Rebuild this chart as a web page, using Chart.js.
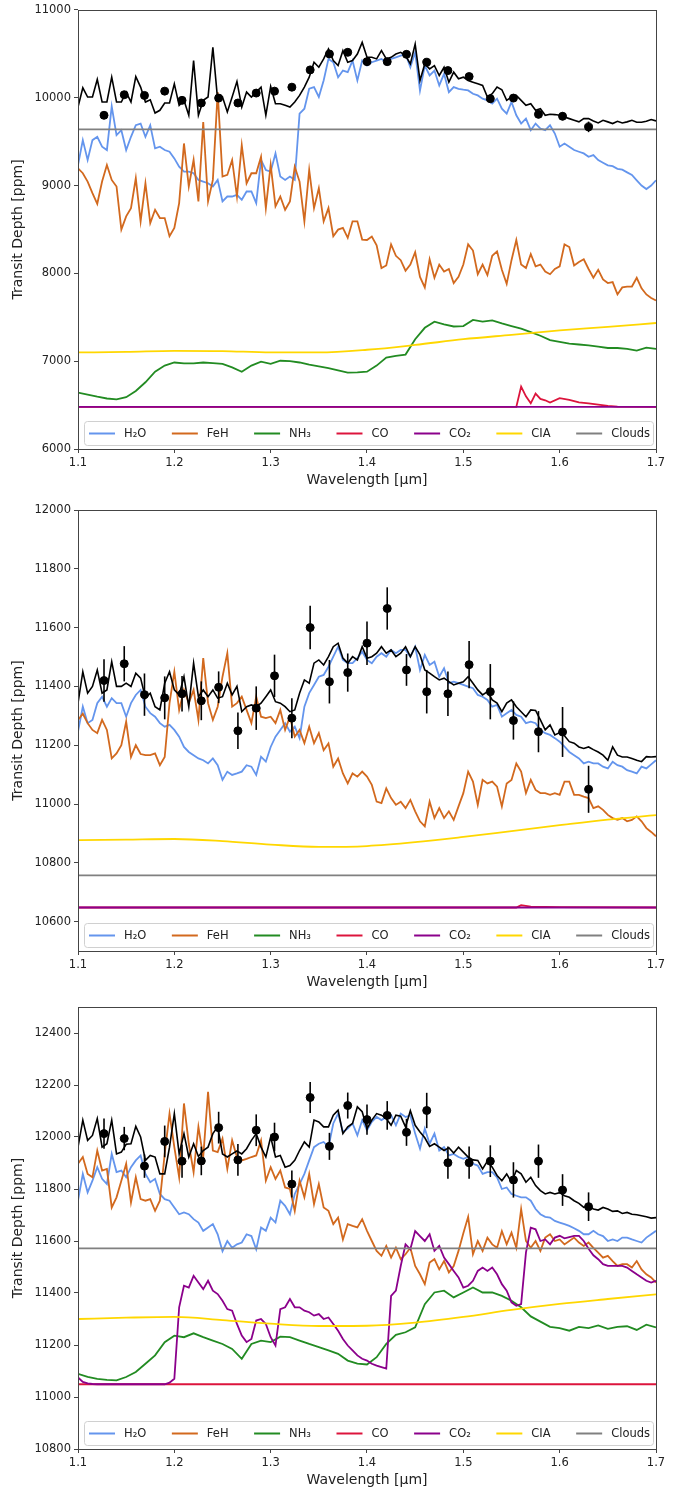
<!DOCTYPE html>
<html>
<head>
<meta charset="utf-8">
<script src="https://cdn.jsdelivr.net/npm/chart.js@4.4.1/dist/chart.umd.min.js"></script>
<style>
  html, body { margin: 0; padding: 0; background: #fff; }
  #wrap { position: relative; width: 694px; height: 1491px; }
  canvas { position: absolute; left: 0; }
</style>
</head>
<body>
<div id="wrap">
  <canvas id="c1" width="694" height="495" style="top:0px"></canvas>
  <canvas id="c2" width="694" height="500" style="top:495px"></canvas>
  <canvas id="c3" width="694" height="496" style="top:995px"></canvas>
</div>
<script>
const speciesLabels = ['H\u2082O', 'FeH', 'NH\u2083', 'CO', 'CO\u2082', 'CIA', 'Clouds'];
const speciesColors = ['#6495ED', '#D2691E', '#228B22', '#DC143C', '#8B008B', '#FFD700', '#808080'];

// model wavelength grids (micron)
const wlFine = Array.from({ length: 121 }, (_, i) => +(1.1 + i * 0.005).toFixed(3));
const wlMid = Array.from({ length: 61 }, (_, i) => +(1.1 + i * 0.01).toFixed(2));
const wlCoarse = Array.from({ length: 13 }, (_, i) => +(1.1 + i * 0.05).toFixed(2));
const wlEnds = [1.1, 1.7];

// observed spectral channels
const obsWl = [1.127, 1.148, 1.169, 1.19, 1.208, 1.228, 1.246, 1.266, 1.285, 1.304, 1.322, 1.341, 1.361,
  1.38, 1.40, 1.421, 1.441, 1.462, 1.484, 1.506, 1.528, 1.552, 1.578, 1.603, 1.63];

// ---------- panel 1 ----------
const obs1 = [9800, 10034, 10026, 10075, 9970, 9940, 9996, 9940, 10053, 10075, 10120, 10317, 10498,
  10517, 10411, 10411, 10494, 10404, 10309, 10241, 9989, 9996, 9811, 9789, 9668];
const err1 = [40, 40, 40, 40, 40, 40, 40, 40, 40, 40, 40, 45, 45, 40, 40, 40, 40, 40, 40, 40, 40, 40, 45, 45, 60];
const model1 = [9894, 10113, 10008, 10008, 10208, 9951, 9951, 10234, 9951, 9951,
  10064, 9951, 10241, 10121, 9951, 9977, 9826, 9857, 9940, 9940,
  10158, 9913, 9970, 9800, 10423, 9800, 9970, 10008, 10574, 9970,
  10008, 9838, 10008, 10185, 9894, 10064, 10008, 10064, 10121, 9800,
  10128, 9932, 9932, 9913, 9894, 9951, 10026, 10121, 10234, 10404,
  10347, 10442, 10555, 10423, 10366, 10536, 10404, 10423, 10498, 10630,
  10460, 10460, 10442, 10536, 10442, 10460, 10498, 10517, 10479, 10385,
  10611, 10196, 10385, 10328, 10366, 10253, 10347, 10177, 10291, 10215,
  10234, 10196, 10177, 10158, 10140, 10008, 10045, 10121, 10091, 9970,
  10008, 10026, 9970, 9913, 9932, 9857, 9875, 9800, 9811, 9808,
  9800, 9781, 9762, 9743, 9725, 9762, 9762, 9736, 9713, 9743,
  9725, 9706, 9732, 9713, 9725, 9743, 9721, 9721, 9732, 9751,
  9736];
const h2o1 = [9234, 9517, 9291, 9517, 9555, 9442, 9404, 9902, 9574, 9630,
  9404, 9555, 9687, 9706, 9555, 9687, 9423, 9442, 9404, 9385,
  9309, 9215, 9158, 9158, 9140, 9064, 9045, 9026, 8989, 9064,
  8819, 8875, 8875, 8894, 8838, 8932, 8932, 8800, 9291, 9177,
  9158, 9366, 9102, 9064, 9102, 9064, 9819, 9875, 10102, 10121,
  10008, 10196, 10442, 10404, 10234, 10309, 10291, 10423, 10196, 10423,
  10366, 10404, 10423, 10442, 10404, 10442, 10460, 10479, 10498, 10347,
  10517, 10083, 10366, 10253, 10309, 10140, 10272, 10064, 10121, 10102,
  10091, 10083, 10045, 10026, 9989, 9970, 9932, 9989, 9875, 9819,
  9951, 9800, 9706, 9762, 9630, 9706, 9649, 9630, 9687, 9592,
  9442, 9479, 9442, 9404, 9385, 9366, 9328, 9347, 9290, 9260,
  9230, 9220, 9190, 9180, 9150, 9120, 9060, 9000, 8960, 9000,
  9060];
const feh1 = [9196, 9140, 9045, 8913, 8792, 9045, 9234, 9064, 8989, 8498,
  8649, 8743, 9083, 8592, 9026, 8573, 8724, 8630, 8630, 8423,
  8517, 8800, 9479, 8989, 9291, 8819, 9724, 8819, 9064, 10064,
  9102, 9121, 9291, 8875, 9460, 9026, 9140, 9140, 9328, 8743,
  9234, 8762, 8875, 8724, 8819, 9215, 9045, 8592, 9177, 8743,
  8970, 8592, 8743, 8423, 8498, 8517, 8404, 8592, 8592, 8385,
  8380, 8420, 8320, 8060, 8090, 8330, 8200, 8150, 8030, 8100,
  8240, 7960, 7840, 8160, 7950, 8100, 8020, 8050, 7890, 7960,
  8100, 8330, 8260, 7990, 8100, 7980, 8200, 8250, 8040, 7880,
  8150, 8380, 8100, 8060, 8220, 8080, 8100, 8020, 7990, 8050,
  8080, 8330, 8300, 8090, 8130, 8160, 8050, 7950, 8040, 7930,
  7890, 7900, 7760, 7840, 7850, 7850, 7950, 7830, 7760, 7720,
  7690];
const nh31 = [6642, 6620, 6596, 6575, 6566, 6590, 6660, 6760, 6880, 6950,
  6985, 6975, 6975, 6985, 6978, 6970, 6930, 6880, 6950, 6995,
  6970, 7005, 7000, 6985, 6960, 6940, 6920, 6895, 6870, 6872,
  6880, 6950, 7040, 7060, 7075, 7250, 7380, 7450, 7420, 7395,
  7400, 7470, 7450, 7465, 7430, 7400, 7370, 7330, 7290, 7240,
  7220, 7200, 7190, 7180, 7165, 7150, 7150, 7140, 7120, 7155,
  7140];
const coWl1 = [1.1, 1.555, 1.56, 1.565, 1.57, 1.575, 1.58, 1.585, 1.59, 1.6, 1.61, 1.62, 1.63, 1.64, 1.65, 1.66, 1.7];
const co1 = [6480, 6480, 6710, 6600, 6520, 6630, 6570, 6555, 6530, 6580, 6560, 6530, 6520, 6505, 6490, 6482, 6480];
const co21 = [6480, 6480];
const cia1 = [7100, 7105, 7118, 7115, 7100, 7100, 7130, 7185, 7250, 7300, 7350, 7390, 7435];
const clouds1 = [9640, 9640];

// ---------- panel 2 ----------
const obs2 = [11420, 11477, 11372, 11361, 11375, 11351, 11397, 11249, 11326, 11436, 11292, 11600, 11416,
  11447, 11547, 11665, 11456, 11382, 11375, 11474, 11382, 11284, 11246, 11245, 11050];
const err2 = [72, 60, 72, 73, 60, 66, 54, 62, 74, 72, 68, 74, 74, 65, 74, 72, 54, 74, 76, 80, 94, 65, 70, 85, 80];
const model2 = [11343, 11450, 11377, 11400, 11456, 11377, 11388, 11484, 11400, 11400,
  11411, 11400, 11445, 11428, 11360, 11377, 11331, 11320, 11411, 11450,
  11388, 11371, 11433, 11331, 11479, 11365, 11388, 11365, 11388, 11360,
  11365, 11411, 11371, 11400, 11314, 11331, 11337, 11331, 11343, 11365,
  11388, 11348, 11343, 11331, 11314, 11320, 11377, 11422, 11411, 11479,
  11490, 11473, 11501, 11535, 11547, 11496, 11479, 11501, 11490, 11535,
  11496, 11501, 11513, 11535, 11513, 11524, 11501, 11513, 11535, 11501,
  11535, 11507, 11456, 11445, 11433, 11422, 11428, 11416, 11405, 11411,
  11416, 11433, 11411, 11388, 11371, 11382, 11354, 11343, 11314, 11343,
  11354, 11331, 11314, 11297, 11320, 11318, 11286, 11252, 11269, 11235,
  11243, 11232, 11212, 11207, 11194, 11189, 11194, 11185, 11177, 11166,
  11149, 11194, 11166, 11160, 11160, 11155, 11149, 11144, 11161, 11160,
  11161];
const h2o2 = [11246, 11331, 11275, 11286, 11343, 11365, 11331, 11360, 11343, 11343,
  11297, 11343, 11371, 11388, 11331, 11309, 11297, 11275, 11263, 11269,
  11252, 11229, 11194, 11177, 11166, 11155, 11149, 11138, 11155, 11132,
  11082, 11110, 11099, 11104, 11110, 11132, 11127, 11099, 11161, 11144,
  11194, 11229, 11252, 11275, 11246, 11263, 11224, 11331, 11377, 11405,
  11433, 11439, 11467, 11501, 11535, 11490, 11479, 11479, 11496, 11518,
  11490, 11479, 11501, 11513, 11501, 11524, 11513, 11524, 11524, 11501,
  11535, 11456, 11507, 11473, 11484, 11433, 11462, 11411, 11416, 11411,
  11405, 11399, 11394, 11371, 11365, 11354, 11331, 11337, 11297, 11309,
  11320, 11303, 11297, 11275, 11280, 11275, 11252, 11241, 11235, 11224,
  11212, 11195, 11177, 11166, 11155, 11138, 11144, 11138, 11138, 11127,
  11121, 11144, 11132, 11127, 11115, 11110, 11104, 11127, 11121, 11135,
  11149];
const feh2 = [11286, 11307, 11275, 11252, 11241, 11286, 11252, 11155, 11172, 11200,
  11280, 11160, 11200, 11170, 11166, 11166, 11172, 11132, 11160, 11343,
  11450, 11320, 11388, 11343, 11388, 11286, 11496, 11343, 11286, 11331,
  11433, 11513, 11331, 11343, 11365, 11320, 11275, 11365, 11297, 11292,
  11297, 11275, 11320, 11252, 11297, 11229, 11252, 11207, 11263, 11207,
  11241, 11183, 11206, 11127, 11155, 11104, 11070, 11104, 11093, 11110,
  11093, 11065, 11008, 11003, 11053, 11020, 10997, 11008, 10986, 11014,
  10975, 10941, 10924, 11008, 10952, 10986, 10952, 10975, 10946, 10992,
  11037, 11110, 11076, 10997, 11082, 11070, 11076, 11059, 10992, 11070,
  11082, 11138, 11110, 11037, 11082, 11048, 11037, 11037, 11031, 11037,
  11031, 11076, 11076, 11031, 11031, 11025, 11020, 10986, 10992, 10980,
  10963, 10952, 10946, 10952, 10941, 10946, 10958, 10941, 10918, 10905,
  10890];
const nh32 = [];
const coWl2 = [1.1, 1.555, 1.56, 1.57, 1.6, 1.7];
const co2v = [10648, 10648, 10656, 10651, 10649, 10648];
const co22 = [10648, 10648];
const cia2 = [10877, 10879, 10881, 10874, 10862, 10854, 10857, 10870, 10888, 10908, 10928, 10947, 10962];
const clouds2 = [10757, 10757];

// ---------- panel 3 ----------
const obs3 = [12013, 11994, 11888, 11983, 11907, 11908, 12036, 11912, 12026, 12000, 11819, 12152, 11964,
  12121, 12067, 12083, 12018, 12102, 11901, 11901, 11907, 11835, 11907, 11796, 11732];
const err3 = [58, 45, 45, 61, 64, 55, 61, 61, 61, 55, 52, 60, 52, 50, 58, 55, 52, 68, 62, 62, 61, 68, 64, 61, 55];
const model3 = [11961, 12065, 11987, 12006, 12071, 11961, 11974, 12065, 11935, 11942,
  11972, 11974, 12041, 12000, 11910, 11929, 11923, 11858, 11858, 11961,
  12090, 11935, 12013, 11923, 11974, 11925, 11948, 11961, 12013, 12039,
  11935, 11923, 11935, 11946, 11935, 11955, 11987, 12013, 11961, 11923,
  12000, 11923, 11929, 11884, 11890, 11910, 11948, 11981, 11961, 12065,
  12058, 12039, 12039, 12084, 12103, 12013, 12039, 12052, 12116, 12097,
  12032, 12065, 12090, 12084, 12071, 12045, 12084, 12080, 12039, 12101,
  12045, 12019, 11997, 11964, 11974, 11961, 11948, 11959, 11938, 11961,
  11942, 11923, 11912, 11910, 11877, 11907, 11884, 11852, 11832, 11858,
  11826, 11871, 11858, 11826, 11845, 11813, 11794, 11781, 11787, 11781,
  11786, 11774, 11768, 11755, 11745, 11729, 11735, 11723, 11719, 11729,
  11723, 11714, 11716, 11706, 11710, 11703, 11701, 11697, 11693, 11688,
  11690];
const h2o3 = [11755, 11858, 11787, 11832, 11884, 11839, 11819, 11935, 11865, 11871,
  11845, 11884, 11910, 11929, 11858, 11826, 11839, 11781, 11761, 11755,
  11729, 11703, 11710, 11703, 11684, 11671, 11639, 11652, 11665, 11626,
  11561, 11600, 11574, 11587, 11594, 11626, 11619, 11568, 11652, 11639,
  11690, 11671, 11755, 11735, 11703, 11781, 11819, 11858, 11910, 11961,
  11974, 11981, 11961, 12052, 12090, 12019, 12032, 12052, 12006, 12065,
  12026, 12058, 12077, 12065, 12077, 12084, 12045, 12090, 12077, 12084,
  12013, 11955, 12032, 11974, 12013, 11948, 11961, 11929, 11935, 11923,
  11916, 11923, 11897, 11890, 11858, 11865, 11865, 11845, 11800, 11806,
  11781, 11774, 11768, 11768, 11755, 11723, 11703, 11693, 11690, 11677,
  11671, 11665, 11658, 11649, 11639, 11626, 11626, 11639, 11626, 11619,
  11600, 11606, 11600, 11613, 11613, 11606, 11600, 11594, 11613, 11626,
  11639];
const feh3 = [11897, 11923, 11858, 11845, 11948, 11871, 11877, 11729, 11768, 11832,
  11897, 11748, 11845, 11761, 11755, 11761, 11716, 11755, 11935, 12090,
  11961, 11845, 12129, 11974, 11865, 12039, 11923, 12174, 11948, 11942,
  11994, 11877, 11987, 11923, 11910, 11916, 11923, 11929, 11987, 11832,
  11884, 11839, 11871, 11806, 11800, 11716, 11832, 11768, 11858, 11742,
  11819, 11729, 11716, 11665, 11690, 11606, 11665, 11658, 11652, 11684,
  11639, 11600, 11562, 11543, 11581, 11536, 11574, 11530, 11549, 11574,
  11504, 11472, 11434, 11517, 11530, 11491, 11523, 11479, 11504, 11562,
  11630, 11693, 11549, 11600, 11562, 11613, 11587, 11574, 11638, 11587,
  11632, 11574, 11723, 11600, 11574, 11600, 11562, 11613, 11626, 11600,
  11606, 11587, 11600, 11613, 11594, 11581, 11594, 11574, 11555, 11536,
  11543, 11523, 11504, 11511, 11511, 11498, 11523, 11491, 11472, 11460,
  11440];
const nh33 = [11089, 11077, 11070, 11066, 11064, 11077, 11096, 11128, 11160, 11211,
  11236, 11230, 11245, 11230, 11217, 11204, 11185, 11147, 11204, 11217,
  11211, 11232, 11230, 11217, 11204, 11192, 11179, 11166, 11140, 11128,
  11125, 11153, 11204, 11239, 11249, 11268, 11357, 11402, 11409, 11383,
  11402, 11421, 11402, 11402, 11389, 11370, 11345, 11310, 11290, 11270,
  11265, 11255, 11270, 11265, 11275, 11262, 11270, 11272, 11258, 11278,
  11268];
const co3 = [11049, 11049];
const co23 = [11075, 11058, 11052, 11050, 11049, 11049, 11049, 11049, 11049, 11049,
  11049, 11049, 11049, 11049, 11049, 11049, 11049, 11049, 11049, 11055,
  11070, 11345, 11428, 11421, 11466, 11440, 11415, 11447, 11409, 11396,
  11370, 11338, 11332, 11281, 11236, 11211, 11223, 11294, 11300, 11281,
  11230, 11198, 11338, 11345, 11377, 11345, 11345, 11332, 11326, 11313,
  11319, 11300, 11306, 11281, 11255, 11223, 11198, 11179, 11160, 11147,
  11140, 11128, 11121, 11115, 11109, 11389, 11409, 11504, 11587, 11568,
  11638, 11619, 11600, 11626, 11562, 11581, 11536, 11511, 11485, 11460,
  11421, 11428, 11447, 11485, 11498, 11485, 11498, 11472, 11434, 11409,
  11364, 11351, 11357, 11555, 11651, 11645, 11600, 11606, 11587, 11613,
  11620, 11610, 11615, 11620, 11620, 11600, 11570, 11545, 11530, 11511,
  11504, 11504, 11504, 11504, 11498, 11485, 11472, 11460, 11447, 11440,
  11447];
const cia3 = [11300, 11305, 11308, 11296, 11282, 11273, 11274, 11286, 11308, 11335, 11358, 11377, 11395];
const clouds3 = [11572, 11572];

Chart.defaults.font.family = '"DejaVu Sans", sans-serif';
const tickFont = { size: 11.5 };
const labelFont = { size: 14 };

const pts = (xs, ys) => ys.map((y, i) => ({ x: xs[i], y }));

const curve = (idx, xs, ys, extra) => Object.assign({
  label: speciesLabels[idx],
  data: pts(xs, ys),
  borderColor: speciesColors[idx],
  backgroundColor: speciesColors[idx],
  borderWidth: 1.8,
  pointRadius: 0,
  showLine: true,
  tension: 0,
  order: 8 - idx
}, extra || {});

const buildDatasets = (p) => [
  { label: 'data', data: pts(obsWl, p.obs), errors: p.err, showLine: false,
    pointRadius: 4, pointBackgroundColor: '#000', pointBorderColor: '#000', order: 0 },
  { label: 'model', data: pts(wlFine, p.model), borderColor: '#000', borderWidth: 1.6,
    pointRadius: 0, showLine: true, order: 1 },
  curve(0, wlFine, p.h2o),
  curve(1, wlFine, p.feh),
  curve(2, p.nh3Wl, p.nh3),
  curve(3, p.coWl, p.co),
  curve(4, p.co2Wl, p.co2),
  curve(5, wlCoarse, p.cia, { cubicInterpolationMode: 'monotone' }),
  curve(6, wlEnds, p.clouds)
];

const extras = {
  id: 'extras',
  afterDatasetsDraw(chart) {
    const { ctx, chartArea: a, scales: { x, y } } = chart;
    // error bars
    chart.data.datasets.forEach(ds => {
      if (!ds.errors) return;
      ctx.save();
      ctx.strokeStyle = '#000';
      ctx.lineWidth = 1.6;
      ds.data.forEach((p, i) => {
        const px = x.getPixelForValue(p.x);
        ctx.beginPath();
        ctx.moveTo(px, y.getPixelForValue(p.y - ds.errors[i]));
        ctx.lineTo(px, y.getPixelForValue(p.y + ds.errors[i]));
        ctx.stroke();
      });
      ctx.restore();
    });

    // legend inside the axes, bottom
    ctx.save();
    const boxL = a.left + 6, boxR = a.right - 3, boxB = a.bottom - 4, boxT = boxB - 24;
    ctx.beginPath();
    ctx.roundRect(boxL + 0.5, boxT + 0.5, boxR - boxL, boxB - boxT, 3);
    ctx.fillStyle = 'rgba(255,255,255,0.85)';
    ctx.fill();
    ctx.strokeStyle = '#d0d0d0';
    ctx.lineWidth = 1;
    ctx.stroke();
    ctx.font = '11.5px "DejaVu Sans", sans-serif';
    ctx.textBaseline = 'middle';
    const items = speciesLabels.map((lab, i) => ({ lab, color: speciesColors[i], w: ctx.measureText(lab).width }));
    const handle = 26, gap = 9;
    const natural = items.reduce((s, it) => s + handle + gap + it.w, 0);
    const colGap = (boxR - boxL - 8 - natural) / (items.length - 1);
    const cy = (boxT + boxB) / 2 + 0.5;
    let cx = boxL + 5;
    items.forEach(it => {
      ctx.strokeStyle = it.color;
      ctx.lineWidth = 2;
      ctx.beginPath();
      ctx.moveTo(cx, cy);
      ctx.lineTo(cx + handle, cy);
      ctx.stroke();
      ctx.fillStyle = '#222';
      ctx.fillText(it.lab, cx + handle + gap, cy + 1);
      cx += handle + gap + it.w + colGap;
    });
    ctx.restore();
  },
  afterDraw(chart) {
    const { ctx, chartArea: a } = chart;
    ctx.save();
    ctx.strokeStyle = '#444';
    ctx.lineWidth = 1;
    ctx.strokeRect(Math.round(a.left) + 0.5, Math.round(a.top) + 0.5,
      Math.round(a.right - a.left), Math.round(a.bottom - a.top));
    ctx.restore();
  }
};

const makeChart = (id, p) => new Chart(document.getElementById(id), {
  type: 'scatter',
  data: { datasets: buildDatasets(p) },
  plugins: [extras],
  options: {
    responsive: false,
    animation: false,
    layout: { padding: { top: p.padTop, right: 38, bottom: p.padBottom, left: 0 } },
    plugins: { legend: { display: false }, tooltip: { enabled: false } },
    scales: {
      x: {
        type: 'linear', min: 1.1, max: 1.7,
        ticks: { stepSize: 0.1, color: '#222', font: tickFont, padding: 3, callback: v => v.toFixed(1) },
        grid: { drawOnChartArea: false, drawTicks: true, tickLength: 4, color: '#444' },
        border: { display: false },
        title: { display: true, text: 'Wavelength [\u03bcm]', color: '#222', font: labelFont, padding: { top: 0, bottom: 0 } },
        afterFit: s => { s.height = 40; }
      },
      y: {
        type: 'linear', min: p.yMin, max: p.yMax,
        ticks: { stepSize: p.yStep, color: '#222', font: tickFont, padding: 3, callback: v => String(Math.round(v)) },
        afterBuildTicks: s => { s.ticks = s.ticks.filter(t => t.value % p.yStep === 0); },
        grid: { drawOnChartArea: false, drawTicks: true, tickLength: 4, color: '#444' },
        border: { display: false },
        title: { display: true, text: 'Transit Depth [ppm]', color: '#222', font: labelFont, padding: { top: 10, bottom: 0 } },
        afterFit: s => { s.width = 78; }
      }
    }
  }
});

makeChart('c1', {
  obs: obs1, err: err1, model: model1, h2o: h2o1, feh: feh1, nh3Wl: wlMid, nh3: nh31,
  coWl: coWl1, co: co1, co2Wl: wlEnds, co2: co21, cia: cia1, clouds: clouds1,
  yMin: 6000, yMax: 11000, yStep: 1000, padTop: 9, padBottom: 6
});
makeChart('c2', {
  obs: obs2, err: err2, model: model2, h2o: h2o2, feh: feh2, nh3Wl: wlMid, nh3: nh32,
  coWl: coWl2, co: co2v, co2Wl: wlEnds, co2: co22, cia: cia2, clouds: clouds2,
  yMin: 10500, yMax: 12000, yStep: 200, padTop: 15, padBottom: 4
});
makeChart('c3', {
  obs: obs3, err: err3, model: model3, h2o: h2o3, feh: feh3, nh3Wl: wlMid, nh3: nh33,
  coWl: wlEnds, co: co3, co2Wl: wlFine, co2: co23, cia: cia3, clouds: clouds3,
  yMin: 10800, yMax: 12500, yStep: 200, padTop: 12, padBottom: 2
});
</script>
</body>
</html>
